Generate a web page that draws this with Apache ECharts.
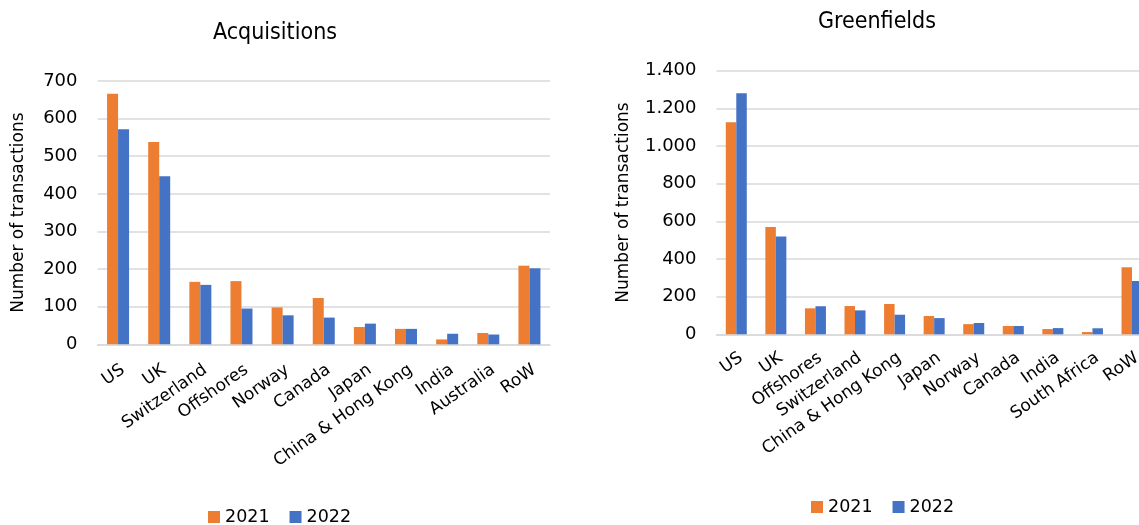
<!DOCTYPE html>
<html>
<head>
<meta charset="utf-8">
<script src="https://cdn.jsdelivr.net/npm/echarts@6/dist/echarts.min.js"></script>
<style>
html,body{margin:0;padding:0;background:#fff;}
#chart{width:1139px;height:525px;}
</style>
</head>
<body>
<div id="chart"></div>
<script>
// Acquisitions
var acqCategories = ['US','UK','Switzerland','Offshores','Norway','Canada','Japan','China & Hong Kong','India','Australia','RoW'];
var acq2021 = [666, 538, 166, 168, 98, 123, 46, 41, 13, 30, 209];
var acq2022 = [572, 447, 158, 95, 77, 71, 55, 41, 28, 26, 202];
// Greenfields
var grnCategories = ['US','UK','Offshores','Switzerland','China & Hong Kong','Japan','Norway','Canada','India','South Africa','RoW'];
var grn2021 = [1126, 570, 138, 150, 161, 97, 54, 44, 28, 12, 356];
var grn2022 = [1280, 520, 149, 127, 104, 86, 60, 44, 33, 32, 283];
var seriesNames = ['2021','2022'];

var ORANGE = '#ED7D31', BLUE = '#4472C4';
var FONT = 'DejaVu Sans';
var TITLE_FONT = 'DejaVu Sans Condensed';

function thousandDot(v){
  return String(v).replace(/\B(?=(\d{3})+(?!\d))/g, '.');
}

var chart = echarts.init(document.getElementById('chart'), null, {renderer:'canvas'});

var gridLine = {show:true, lineStyle:{color:'#d9d9d9', width:1.5}};

function xAxis(gi, cats, margin){
  return {
    type:'category', gridIndex:gi, data:cats,
    axisLine:{show:true, lineStyle:{color:'#d9d9d9', width:1.5}},
    axisTick:{show:false},
    axisLabel:{interval:0, rotate:35, margin:margin, fontFamily:FONT, fontSize:17, color:'#000', verticalAlign:'top', hideOverlap:false}
  };
}
function yAxis(gi, max, interval, gap, fmt){
  return {
    type:'value', gridIndex:gi, min:0, max:max, interval:interval,
    name:'Number of transactions', nameLocation:'middle', nameGap:gap, nameRotate:90,
    nameTextStyle:{fontFamily:FONT, fontSize:17, color:'#000'},
    axisLine:{show:false}, axisTick:{show:false},
    splitLine:gridLine,
    axisLabel:{fontFamily:FONT, fontSize:18, color:'#000', margin:20, formatter:fmt}
  };
}

var option = {
  animation:false,
  backgroundColor:'#fff',
  title:[
    {text:'Acquisitions', left:270, top:17, textAlign:'center',
     textStyle:{fontFamily:TITLE_FONT, fontSize:23, fontWeight:'normal', color:'#000'}},
    {text:'Greenfields', left:872, top:6, textAlign:'center',
     textStyle:{fontFamily:TITLE_FONT, fontSize:23, fontWeight:'normal', color:'#000'}}
  ],
  legend:[
    {data:seriesNames, left:203, top:503, itemWidth:12, itemHeight:12, itemGap:20, icon:'rect',
     textStyle:{fontFamily:FONT, fontSize:17.5, color:'#000'}},
    {data:seriesNames, left:806, top:493, itemWidth:12, itemHeight:12, itemGap:20, icon:'rect',
     textStyle:{fontFamily:FONT, fontSize:17.5, color:'#000'}}
  ],
  grid:[
    {left:97.5, top:81, width:452.5, height:263.3, containLabel:false, outerBoundsMode:'none'},
    {left:716.5, top:70.7, right:-12.8, height:263.6, containLabel:false, outerBoundsMode:'none'}
  ],
  xAxis:[xAxis(0, acqCategories, 17), xAxis(1, grnCategories, 15)],
  yAxis:[
    yAxis(0, 700, 100, 70, function(v){return thousandDot(v);}),
    yAxis(1, 1400, 200, 84, function(v){return thousandDot(v);})
  ],
  series:[
    {name:seriesNames[0], type:'bar', xAxisIndex:0, yAxisIndex:0, data:acq2021, barWidth:11, barGap:'0%', itemStyle:{color:ORANGE}},
    {name:seriesNames[1], type:'bar', xAxisIndex:0, yAxisIndex:0, data:acq2022, barWidth:11, barGap:'0%', itemStyle:{color:BLUE}},
    {name:seriesNames[0], type:'bar', xAxisIndex:1, yAxisIndex:1, data:grn2021, barWidth:10.5, barGap:'0%', itemStyle:{color:ORANGE}},
    {name:seriesNames[1], type:'bar', xAxisIndex:1, yAxisIndex:1, data:grn2022, barWidth:10.5, barGap:'0%', itemStyle:{color:BLUE}}
  ]
};
chart.setOption(option);
</script>
</body>
</html>
